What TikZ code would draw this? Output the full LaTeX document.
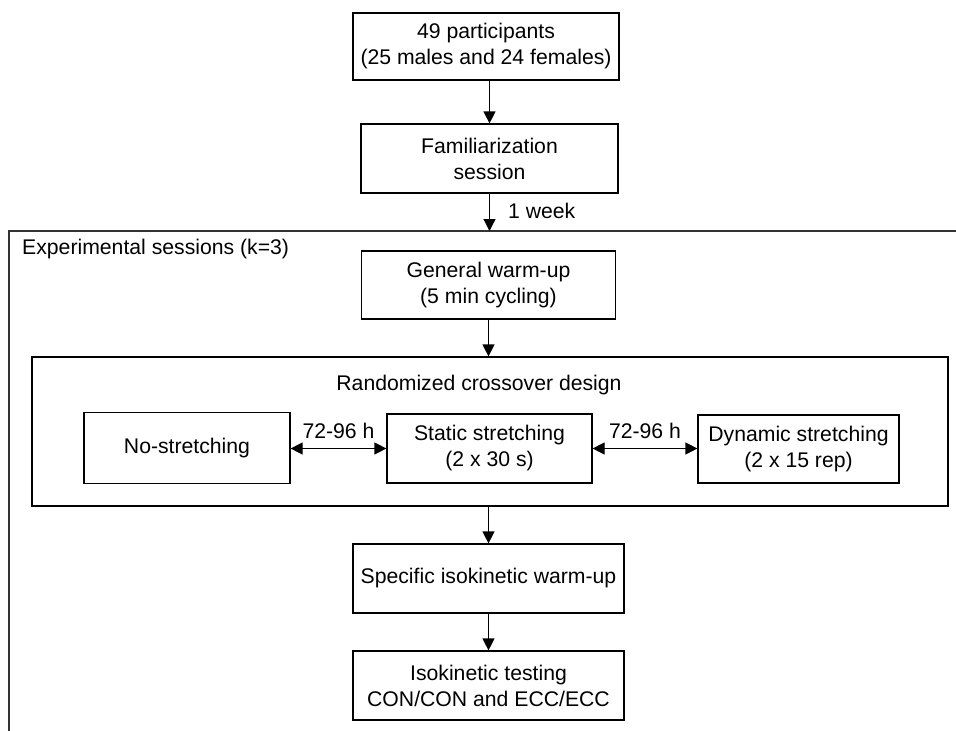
\documentclass[tikz,border=0pt]{standalone}
\usepackage{fontspec}
\setmainfont{Liberation Sans}
\usetikzlibrary{arrows.meta}
\tikzset{
  every node/.style={font=\fontsize{21.2}{26}\selectfont},
  box/.style={draw, line width=1.2pt, align=center, inner sep=0pt},
  arr/.style={line width=1.2pt, -{Triangle[length=12pt,width=12pt]}},
  darr/.style={line width=1.2pt, {Triangle[length=12pt,width=12pt]}-{Triangle[length=12pt,width=12pt]}},
  lab/.style={inner sep=0pt},
  frame/.style={line width=1.3pt, draw=black!80}
}
\begin{document}
\begin{tikzpicture}[x=1pt,y=-1pt]
\useasboundingbox (0,0) rectangle (956,731);
% outer (open) frame
\coordinate (fbl) at (9,731);
\coordinate (ftl) at (9,231);
\coordinate (ftr) at (956,231);
\draw[frame] (fbl) -- (ftl) -- (ftr);
\node[lab, anchor=west] (exp) at (22,249) {Experimental sessions (k=3)};

\node[box, minimum width=266pt, minimum height=67pt] (part) at (486,46.5) {49 participants\\(25 males and 24 females)};
\node[box, minimum width=257pt, minimum height=69pt] (fam) at (489.5,158.5) {Familiarization\\session};
\coordinate (ftop) at (489.5,231);
\node[box, minimum width=254pt, minimum height=68pt] (gen) at (488.5,285) {General warm-up\\(5 min cycling)};

\node[box, minimum width=916pt, minimum height=149pt] (cross) at (490,431.5) {};
\node[lab] (crosst) at (479,385) {Randomized crossover design};
\node[box, minimum width=206pt, minimum height=71pt] (nos) at (187,448) {No-stretching};
\node[box, minimum width=205pt, minimum height=69pt] (sta) at (489.5,448.5) {Static stretching\\(2 x 30 s)};
\node[box, minimum width=201pt, minimum height=68pt] (dyn) at (798.5,449) {Dynamic stretching\\(2 x 15 rep)};

\node[box, minimum width=271pt, minimum height=69pt] (spe) at (488.5,578.5) {Specific isokinetic warm-up};
\node[box, minimum width=271pt, minimum height=69pt] (iso) at (488.5,685.5) {Isokinetic testing\\CON/CON and ECC/ECC};

\draw[arr] (fam.north |- part.south) -- (fam.north);
\draw[arr] (fam.south) -- (ftop) node[lab, pos=0.45, anchor=west, xshift=18pt] (wk) {1 week};
\draw[arr] (gen.north |- gen.south) -- (gen.south |- cross.north);
\draw[arr] (cross.south -| spe.north) -- (spe.north);
\draw[arr] (spe.south) -- (iso.north);
\draw[darr] (nos.east |- sta.west) -- (sta.west) node[lab, midway, above=9pt] (l1) {72-96 h};
\draw[darr] (sta.east) -- (dyn.west |- sta.east) node[lab, midway, above=9pt] (l2) {72-96 h};
\end{tikzpicture}
\end{document}
